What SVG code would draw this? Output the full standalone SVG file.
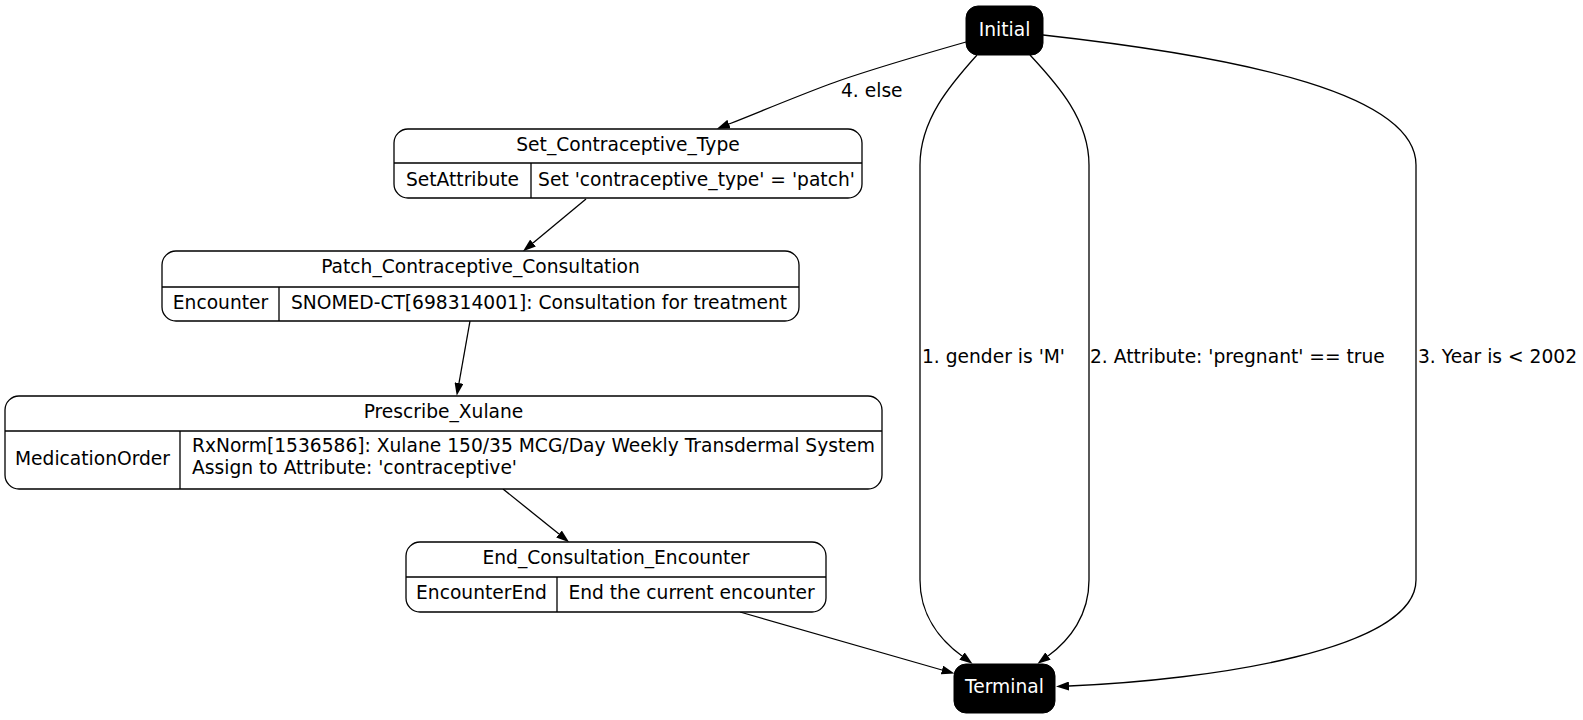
<svg xmlns="http://www.w3.org/2000/svg" width="1583" height="720" viewBox="0 0 1583 720">
<style>
text{font-family:"DejaVu Sans",sans-serif;font-size:18.67px;fill:#000}
.c{text-anchor:middle}
.w{fill:#fff}
.box{fill:#fff;stroke:#000;stroke-width:1.3}
.blk{fill:#000;stroke:#000}
.ln{stroke:#000;stroke-width:1.3;fill:none}
.e{stroke:#000;stroke-width:1.3;fill:none;marker-end:url(#ah)}
</style>
<defs>
<marker id="ah" viewBox="0 0 13 9" refX="0" refY="4.5" markerWidth="13" markerHeight="9" markerUnits="userSpaceOnUse" orient="auto">
<path d="M0,0 L13,4.5 L0,9 z" fill="#000"/>
</marker>
</defs>
<rect width="1583" height="720" fill="#fff"/>
<g id="edges">
<path class="e" d="M966,42 C910,58 868,70 830,84 C795,97 757,113 729,124"/>
<text x="841" y="97">4. else</text>
<path class="e" d="M977,55 C950,85 920,120 920,165 L920,580 C920,615 940,640 962,656"/>
<text x="922" y="363">1. gender is 'M'</text>
<path class="e" d="M1030,55 C1058,85 1089,120 1089,165 L1089,580 C1089,615 1070,640 1048,656"/>
<text x="1090" y="363">2. Attribute: 'pregnant' == true</text>
<path class="e" d="M1043,35 C1250,58 1416,95 1416,165 L1416,580 C1416,650 1210,680 1069,686"/>
<text x="1418" y="363">3. Year is &lt; 2002</text>
<path class="e" d="M586,199 L533,243"/>
<path class="e" d="M470,321 L459,383"/>
<path class="e" d="M503,489 L559,534"/>
<path class="e" d="M740,612 L942,670"/>
</g>
<g id="Initial">
<rect class="blk" x="966" y="6" width="77" height="49" rx="12"/>
<text class="c w" x="1004.5" y="35.5">Initial</text>
</g>
<g id="Terminal">
<rect class="blk" x="954" y="664" width="101" height="49" rx="12"/>
<text class="c w" x="1004.5" y="693">Terminal</text>
</g>
<g id="Set_Contraceptive_Type">
<rect class="box" x="394" y="129" width="468" height="69" rx="14"/>
<path class="ln" d="M394,163 H862 M531,163 V198"/>
<text class="c" x="628" y="151">Set_Contraceptive_Type</text>
<text class="c" x="462.5" y="186">SetAttribute</text>
<text class="c" x="696.5" y="186">Set 'contraceptive_type' = 'patch'</text>
</g>
<g id="Patch_Contraceptive_Consultation">
<rect class="box" x="162" y="251" width="637" height="70" rx="14"/>
<path class="ln" d="M162,287 H799 M279,287 V321"/>
<text class="c" x="480.5" y="273">Patch_Contraceptive_Consultation</text>
<text class="c" x="220.5" y="309">Encounter</text>
<text class="c" x="539" y="309">SNOMED-CT[698314001]: Consultation for treatment</text>
</g>
<g id="Prescribe_Xulane">
<rect class="box" x="5" y="396" width="877" height="93" rx="14"/>
<path class="ln" d="M5,431 H882 M180,431 V489"/>
<text class="c" x="443.5" y="418">Prescribe_Xulane</text>
<text class="c" x="92.5" y="465">MedicationOrder</text>
<text x="192" y="452">RxNorm[1536586]: Xulane 150/35 MCG/Day Weekly Transdermal System</text>
<text x="192" y="474">Assign to Attribute: 'contraceptive'</text>
</g>
<g id="End_Consultation_Encounter">
<rect class="box" x="406" y="542" width="420" height="70" rx="14"/>
<path class="ln" d="M406,577 H826 M557,577 V612"/>
<text class="c" x="616" y="564">End_Consultation_Encounter</text>
<text class="c" x="481.5" y="599">EncounterEnd</text>
<text class="c" x="691.5" y="599">End the current encounter</text>
</g>
</svg>
